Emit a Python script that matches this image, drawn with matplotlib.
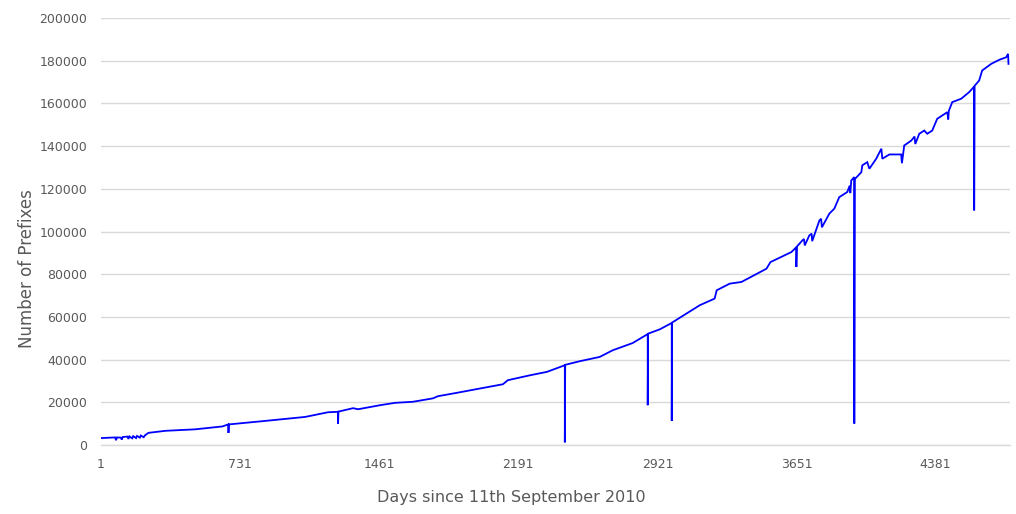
import matplotlib
matplotlib.use("Agg")
import matplotlib.pyplot as plt

# days since 11th September 2010 and prefix counts
# (a repeated day marks a one-day drop in the count)
days = [1, 75, 80, 85, 105, 110, 115, 140, 145, 150, 165, 170, 185, 190,
        205, 210, 225, 232, 250, 339, 496, 638, 669, 670, 672, 847, 1072,
        1193, 1245, 1245, 1247, 1324, 1350, 1466, 1544, 1638, 1743, 1769,
        1869, 1989, 2110, 2136, 2252, 2341, 2435, 2435, 2437, 2514, 2618,
        2686, 2791, 2870, 2870, 2872, 2933, 2996, 2996, 2998, 3143, 3221,
        3232, 3300, 3362, 3493, 3514, 3624, 3650, 3650, 3652, 3682, 3690,
        3694, 3718, 3730, 3733, 3771, 3780, 3784, 3823, 3849, 3875, 3917,
        3930, 3933, 3938, 3954, 3954, 3956, 3991, 3996, 4022, 4033, 4069,
        4096, 4101, 4138, 4200, 4204, 4216, 4253, 4270, 4274, 4295, 4321,
        4337, 4363, 4389, 4442, 4447, 4450, 4468, 4515, 4557, 4583, 4583,
        4585, 4609, 4625, 4672, 4714, 4751, 4761, 4763]
prefixes = [3300, 3600, 2300, 3600, 3500, 2600, 3800, 4000, 2900, 4100,
            3200, 4200, 3300, 4300, 3500, 4500, 3700, 4600, 5750, 6700,
            7400, 8750, 9700, 5700, 9700, 11200, 13200, 15400, 15600, 10100,
            15700, 17300, 16800, 18700, 19800, 20300, 21900, 22900, 24500,
            26500, 28500, 30400, 32700, 34300, 37400, 1300, 37600, 39300,
            41300, 44400, 47800, 52000, 18700, 52200, 54200, 57200, 11400,
            57400, 65500, 68600, 72500, 75600, 76400, 82600, 85700, 90400,
            92700, 83400, 92900, 95900, 96500, 93500, 98200, 99000, 95500,
            105200, 106000, 102000, 108400, 110700, 116100, 118500, 121500,
            118000, 123900, 125500, 10100, 124500, 127800, 131000, 132500,
            129400, 134100, 138800, 134100, 136100, 136100, 132000, 140300,
            142600, 144500, 141000, 145800, 147300, 145800, 147300, 152800,
            155900, 152500, 156500, 160600, 162200, 165300, 167900, 109900,
            168200, 170700, 175400, 178500, 180400, 181600, 183200, 178500]

y_ticks = [0, 20000, 40000, 60000, 80000, 100000, 120000, 140000, 160000,
           180000, 200000]
x_ticks = [1, 731, 1461, 2191, 2921, 3651, 4381]

text_grey = "#595959"
grid_grey = "#d9d9d9"

fig = plt.figure(figsize=(10.16, 5.14), dpi=100)
ax = fig.add_axes([0.0994, 0.134, 0.8945, 0.831])

ax.plot(days, prefixes, color="#0000ff", linewidth=1.3, solid_joinstyle="miter",
        zorder=3)

ax.set_xlim(1, 4770)
ax.set_ylim(0, 200000)
ax.set_yticks(y_ticks)
ax.set_xticks(x_ticks)
ax.set_xticklabels([str(t) for t in x_ticks])
ax.set_yticklabels([str(t) for t in y_ticks])

ax.grid(axis="y", color=grid_grey, linewidth=1.0)
ax.set_axisbelow(True)
for side in ["top", "right", "left"]:
    ax.spines[side].set_visible(False)
ax.spines["bottom"].set_color(grid_grey)
ax.spines["bottom"].set_linewidth(1.0)
ax.tick_params(axis="both", length=0, labelsize=9, colors=text_grey)
ax.tick_params(axis="y", pad=10)
ax.tick_params(axis="x", pad=9)

ax.set_ylabel("Number of Prefixes", fontsize=12, color=text_grey)
ax.set_xlabel("Days since 11th September 2010", fontsize=11.5, color=text_grey)
ax.yaxis.set_label_coords(-0.071, 0.414)
ax.xaxis.set_label_coords(0.451, -0.104)

fig.savefig("out.png", dpi=100)
